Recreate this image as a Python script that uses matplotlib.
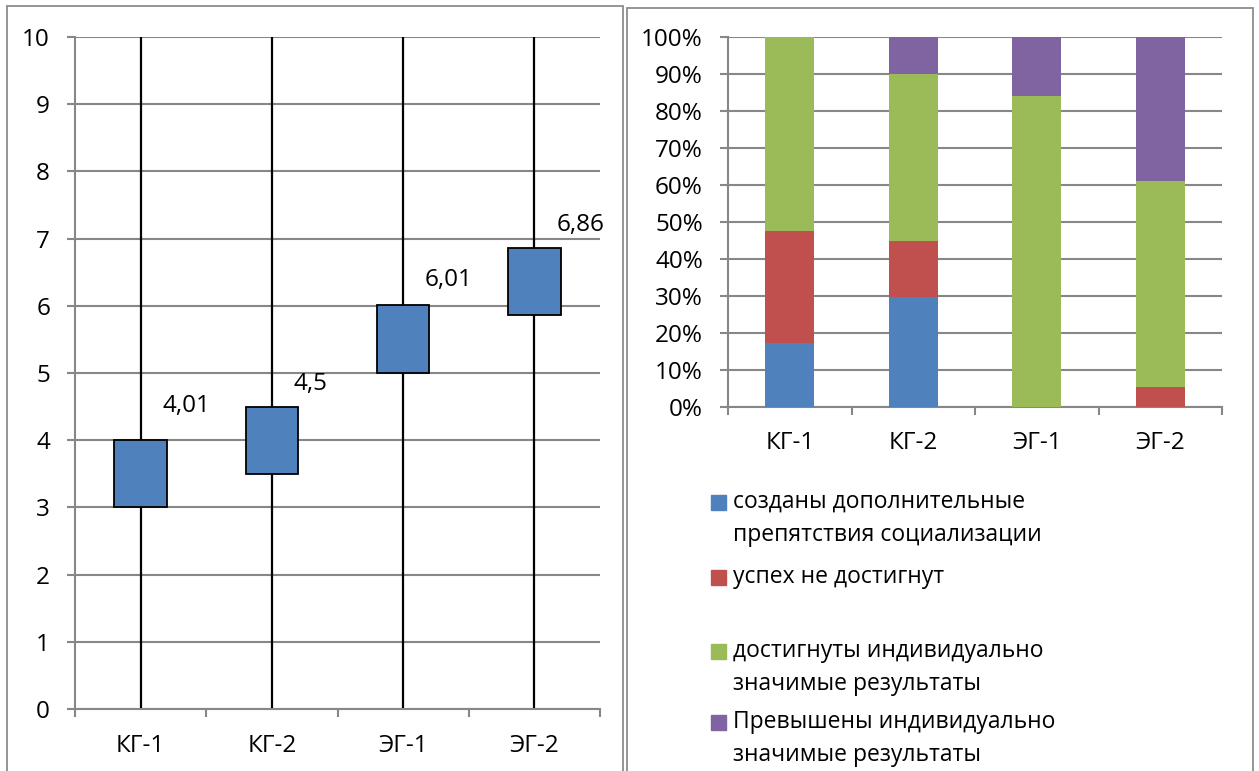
import matplotlib.pyplot as plt
from matplotlib.patches import Rectangle

plt.rcParams['font.family'] = ['Open Sans', 'DejaVu Sans']

groups = ['КГ-1', 'КГ-2', 'ЭГ-1', 'ЭГ-2']
# left chart: high-low lines with open-close boxes
high = [10, 10, 10, 10]
low = [0, 0, 0, 0]
open_vals = [3.0, 3.5, 5.0, 5.86]
close_vals = [4.01, 4.5, 6.01, 6.86]

# right chart: 100% stacked bars
series = ['созданы дополнительные\nпрепятствия социализации',
          'успех не достигнут',
          'достигнуты индивидуально\nзначимые результаты',
          'Превышены индивидуально\nзначимые результаты']
blue = [17.2, 29.8, 0, 0]
red = [30.4, 15.1, 0, 5.4]
green = [52.4, 45.0, 84.1, 55.6]
purple = [0, 10.1, 15.9, 39.0]
colors = ['#4F81BD', '#C0504D', '#9BBB59', '#8064A2']

W, H = 1259, 771
GRID = '#878787'
FS = 17.5
FS_LEG = 16.5

fig = plt.figure(figsize=(W / 100, H / 100), dpi=100)


def px_box(x0, y0, x1, y1):
    # pixel box (top-left origin) -> figure fraction rect
    return [x0 / W, 1 - y1 / H, (x1 - x0) / W, (y1 - y0) / H]


# panel frames (bottom edge is cut off in the reference)
for x0, y0, x1 in [(7, 6, 623), (627, 8, 1253)]:
    fig.add_artist(Rectangle((x0 / W, -0.05), (x1 - x0) / W, 1.05 - y0 / H,
                             transform=fig.transFigure, fill=False,
                             edgecolor='#8c8c8c', lw=1.3))


def style_axes(ax):
    for s in ['top', 'right']:
        ax.spines[s].set_visible(False)
    for s in ['left', 'bottom']:
        ax.spines[s].set_color(GRID)
        ax.spines[s].set_linewidth(1.5)
    ax.grid(axis='y', color=GRID, lw=1.5)
    ax.set_axisbelow(True)
    x = range(len(groups))
    ax.set_xlim(-0.5, len(groups) - 0.5)
    ax.set_xticks([i - 0.5 for i in range(len(groups) + 1)])
    ax.set_xticklabels([])
    ax.set_xticks(list(x), minor=True)
    ax.set_xticklabels(groups, minor=True, fontsize=FS)
    ax.tick_params(axis='x', which='major', length=6, width=1.5, color=GRID)
    ax.tick_params(axis='x', which='minor', length=0, pad=18)
    ax.tick_params(axis='y', length=6, width=1.5, color=GRID, labelsize=FS, pad=12)


# ---- left chart ----
ax1 = fig.add_axes(px_box(75, 37, 600, 709))
style_axes(ax1)
x = list(range(len(groups)))
ax1.vlines(x, low, high, color='black', lw=1.6, zorder=2)
ax1.bar(x, [c - o for c, o in zip(close_vals, open_vals)], bottom=open_vals,
        width=0.4, color='#4F81BD', edgecolor='black', lw=1.3, zorder=3)
ax1.set_ylim(0, 10)
ax1.set_yticks(range(0, 11))
label_dy = [34, 23, 25, 23]
for i, v in enumerate(close_vals):
    ax1.annotate(f'{v:g}'.replace('.', ','), (i, v), xytext=(22, label_dy[i]),
                 textcoords='offset pixels', ha='left', va='center', fontsize=FS)

# ---- right chart ----
ax2 = fig.add_axes(px_box(728, 37, 1222, 407))
style_axes(ax2)
ax2.tick_params(axis='x', which='minor', pad=17)
bottom = [0] * len(groups)
for vals, c, name in zip([blue, red, green, purple], colors, series):
    ax2.bar(x, vals, bottom=bottom, width=0.4, color=c, label=name, zorder=3)
    bottom = [b + v for b, v in zip(bottom, vals)]
ax2.set_ylim(0, 100)
ax2.set_yticks(range(0, 101, 10))
ax2.set_yticklabels([f'{t}%' for t in range(0, 101, 10)])

# legend drawn by hand to keep Excel's uneven spacing
line_y = [[502, 535], [577], [651, 684], [722, 755]]
for name, c, ys in zip(series, colors, line_y):
    fig.add_artist(Rectangle((711 / W, 1 - (ys[0] + 8) / H), 15 / W, 15 / H,
                             transform=fig.transFigure, color=c))
    for line, y in zip(name.split('\n'), ys):
        fig.text(733 / W, 1 - y / H, line, ha='left', va='center', fontsize=FS_LEG)

fig.savefig('out.png', dpi=100)
